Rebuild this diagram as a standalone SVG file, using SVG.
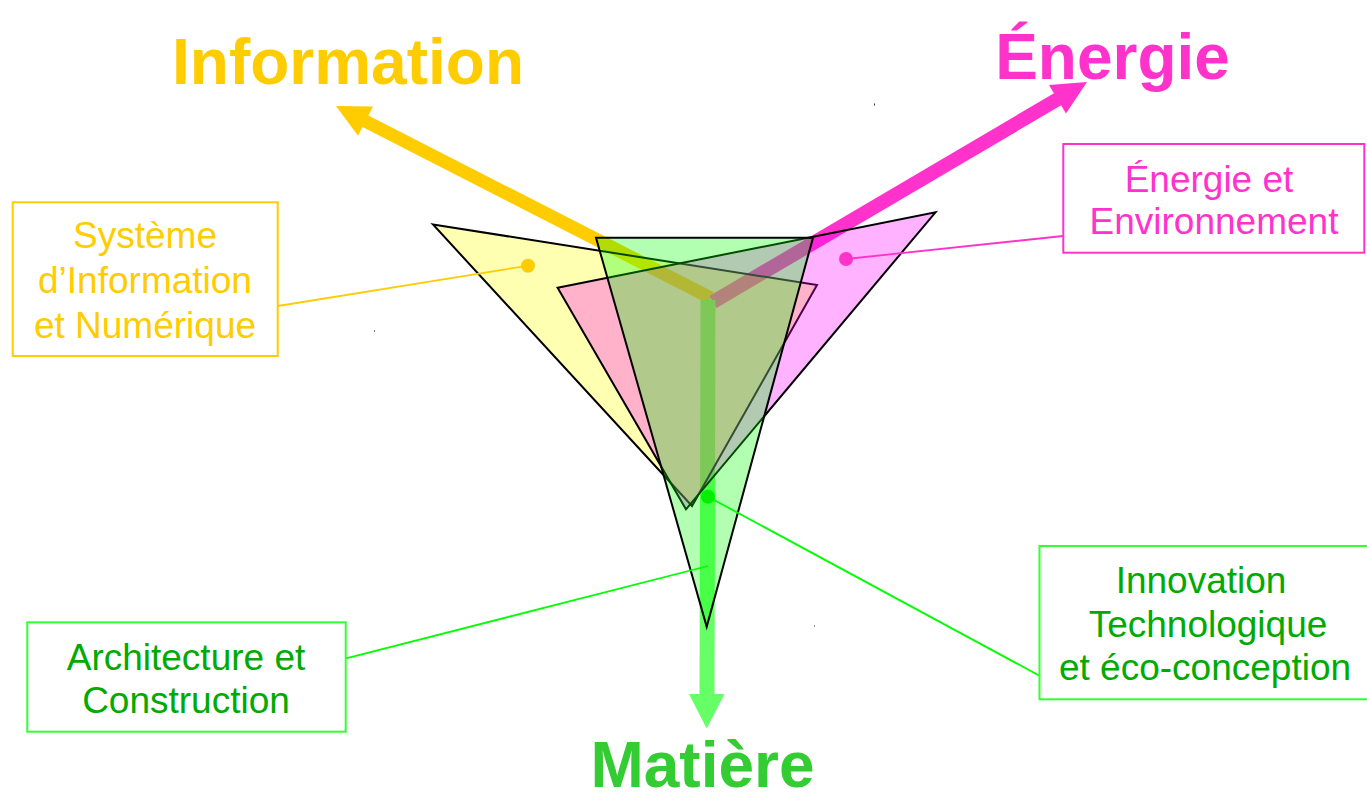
<svg xmlns="http://www.w3.org/2000/svg" width="1367" height="794" viewBox="0 0 1367 794">
<style>
.title{font-family:"Liberation Sans",Arial,sans-serif;font-weight:bold;font-size:64px;text-anchor:middle}
.lbl{font-family:"Liberation Sans",Arial,sans-serif;font-size:37px;text-anchor:middle}
.tri{stroke:#000;stroke-width:2;stroke-linejoin:miter}
.box{fill:#fff;stroke-width:2}
.y{fill:#ffcc00}.m{fill:#ff33cc}.g{fill:#00aa00}
</style>
<rect width="1367" height="794" fill="#fff"/>
<g id="axes">
<line x1="711" y1="298" x2="365" y2="121" stroke="#ffcc00" stroke-width="13"/>
<polygon points="336,106 373,106.4 358,135.8" fill="#ffcc00"/>
<line x1="713" y1="302" x2="1058" y2="99" stroke="#ff33cc" stroke-width="14"/>
<polygon points="1087,82 1066,113.4 1049,85" fill="#ff33cc"/>
<line x1="708" y1="300" x2="707" y2="695" stroke="#66ff66" stroke-width="15"/>
<polygon points="689,694 724.5,694 706.7,728.5" fill="#66ff66"/>
</g>
<g id="triangle-info"><polygon class="tri" points="433,224.5 817,285 692,506" fill="#ffff00" fill-opacity="0.3"/></g>
<g id="triangle-energie"><polygon class="tri" points="557.6,287.7 935.5,212.3 686,509.3" fill="#ff00ff" fill-opacity="0.3"/></g>
<g id="triangle-matiere"><polygon class="tri" points="596,237.7 813,237.7 706.7,626.7" fill="#00ff00" fill-opacity="0.3"/></g>
<g id="connectors" stroke-width="1.8">
<line x1="278" y1="306" x2="528" y2="265.7" stroke="#ffcc00"/>
<circle cx="528" cy="265.7" r="7" fill="#ffcc00"/>
<line x1="1063" y1="236" x2="846" y2="259" stroke="#ff33cc"/>
<circle cx="846" cy="259" r="7" fill="#ff33cc"/>
<line x1="708" y1="496.7" x2="1040" y2="676" stroke="#00ff00"/>
<circle cx="708" cy="496.7" r="7" fill="#00ee00"/>
<line x1="346" y1="658.3" x2="708" y2="566" stroke="#00ff00"/>
</g>
<g id="title-information"><text class="title y" x="348" y="84">Information</text></g>
<g id="title-energie"><text class="title m" x="1112.5" y="79">Énergie</text></g>
<g id="title-matiere"><text class="title" x="702.5" y="787" fill="#33cc33">Matière</text></g>
<g id="box-sin">
<rect class="box" x="12.7" y="202.3" width="265" height="153.7" stroke="#ffcc00"/>
<text class="lbl y" x="145" y="248">Système</text>
<text class="lbl y" x="145" y="293">d’Information</text>
<text class="lbl y" x="145" y="338">et Numérique</text>
</g>
<g id="box-ee">
<rect class="box" x="1063.3" y="144" width="301" height="108.7" stroke="#ff33cc"/>
<text class="lbl m" x="1209" y="192">Énergie et</text>
<text class="lbl m" x="1214" y="234">Environnement</text>
</g>
<g id="box-ac">
<rect class="box" x="27.3" y="622.3" width="318.4" height="109.4" stroke="#33ff33"/>
<text class="lbl g" x="186" y="670">Architecture et</text>
<text class="lbl g" x="186" y="713">Construction</text>
</g>
<g id="box-itec">
<rect class="box" x="1039.5" y="546" width="332" height="153.3" stroke="#33ff33"/>
<text class="lbl g" x="1201" y="593">Innovation</text>
<text class="lbl g" x="1208" y="637">Technologique</text>
<text class="lbl g" x="1205" y="680">et éco-conception</text>
</g>
<g id="marks" fill="#333">
<rect x="874" y="103.5" width="1" height="2"/>
<rect x="374" y="330" width="1" height="2" fill="#777"/>
<rect x="814" y="625" width="1" height="2" fill="#999"/>
</g>
</svg>
